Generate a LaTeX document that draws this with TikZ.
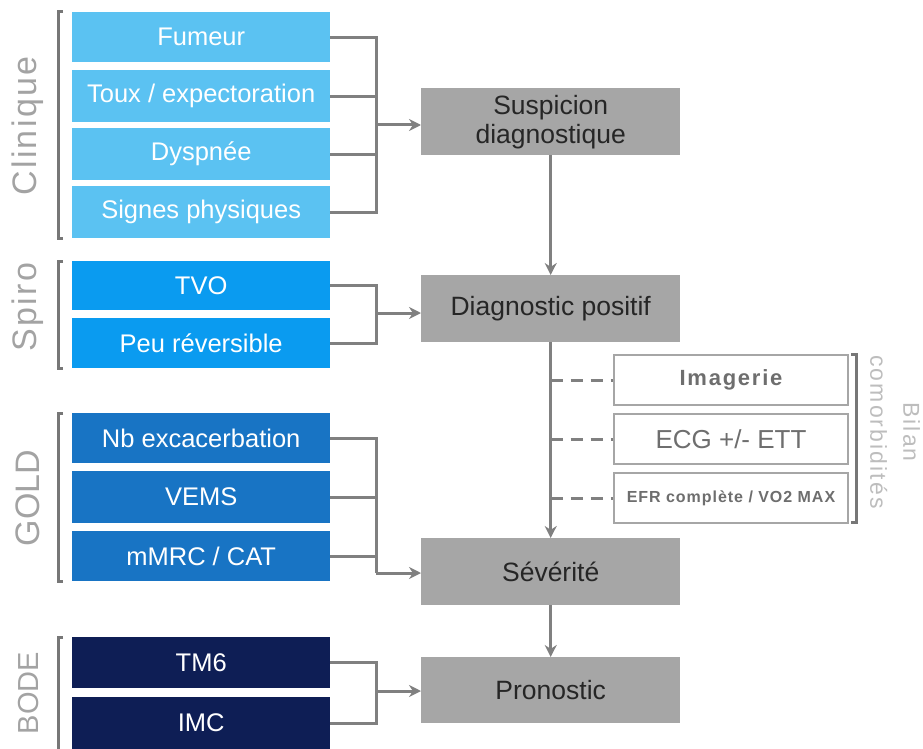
\documentclass[tikz,border=0pt]{standalone}
\usepackage{fontspec}
\setmainfont{Liberation Sans}
\usetikzlibrary{arrows.meta}
\definecolor{clin}{HTML}{5BC2F2}
\definecolor{spiro}{HTML}{0A9BF0}
\definecolor{goldc}{HTML}{1874C4}
\definecolor{bode}{HTML}{0E1E55}
\definecolor{stepgray}{HTML}{A6A6A6}
\definecolor{conn}{HTML}{808080}
\definecolor{lbl}{HTML}{A3A3A3}
\definecolor{bilanc}{HTML}{BDBDBD}
\definecolor{brkc}{HTML}{777777}
\definecolor{comtext}{HTML}{6E6E6E}
\begin{document}
\begin{tikzpicture}[x=1pt,y=-1pt,
  inbox/.style={minimum width=258pt, anchor=north west, inner sep=0pt, text=white, font=\fontsize{25.5}{28}\selectfont},
  stepbox/.style={minimum width=259pt, anchor=north west, inner sep=0pt, fill=stepgray, text=black!85, align=center, font=\fontsize{26.5}{29}\selectfont},
  combox/.style={minimum width=234pt, minimum height=50pt, anchor=north west, inner sep=0pt, draw=stepgray, line width=2pt, fill=white, text=comtext},
  cl/.style={draw=conn, line width=3pt},
  arr/.style={cl, -{Stealth[length=12pt,width=12pt]}},
  dashline/.style={draw=conn, line width=3pt, dash pattern=on 12pt off 8pt},
  brk/.style={draw=brkc, line width=3pt},
  lab/.style={text=lbl, rotate=90, inner sep=0pt}
]
\useasboundingbox (0,0) rectangle (923,749);

% Clinique
\node[inbox, fill=clin, minimum height=50pt] (fum) at (72,12) {Fumeur};
\node[inbox, fill=clin, minimum height=52pt] (toux) at (72,70) {Toux / expectoration};
\node[inbox, fill=clin, minimum height=52pt] (dys) at (72,128) {Dyspnée};
\node[inbox, fill=clin, minimum height=52pt] (sig) at (72,186) {Signes physiques};
% Spiro
\node[inbox, fill=spiro, minimum height=49pt] (tvo) at (72,261) {TVO};
\node[inbox, fill=spiro, minimum height=50pt] (peu) at (72,318) {Peu réversible};
% GOLD
\node[inbox, fill=goldc, minimum height=50pt] (nb) at (72,413) {Nb excacerbation};
\node[inbox, fill=goldc, minimum height=52pt] (vems) at (72,471) {VEMS};
\node[inbox, fill=goldc, minimum height=50pt] (mmrc) at (72,531) {mMRC / CAT};
% BODE
\node[inbox, fill=bode, minimum height=51pt] (tm6) at (72,637) {TM6};
\node[inbox, fill=bode, minimum height=52pt] (imc) at (72,697) {IMC};

% steps
\node[stepbox, minimum height=67pt] (susp) at (421,88) {Suspicion\\diagnostique};
\node[stepbox, minimum height=67pt] (diag) at (421,275) {Diagnostic positif};
\node[stepbox, minimum height=67pt] (sev) at (421,538) {Sévérité};
\node[stepbox, minimum height=66pt] (pron) at (421,657) {Pronostic};

% comorbidities
\node[combox, font=\bfseries\fontsize{22}{24}\selectfont\addfontfeature{LetterSpace=8}] (img) at (613,354) {Imagerie};
\node[combox, font=\fontsize{26}{28}\selectfont] (ecg) at (613,413) {ECG +/- ETT};
\node[combox, font=\bfseries\fontsize{16}{18}\selectfont\addfontfeature{LetterSpace=6}] (efr) at (613,472) {EFR complète / VO2 MAX};

% junctions
\coordinate (jA) at (376,125);
\coordinate (jB) at (376,313);
\coordinate (jC) at (376,573);
\coordinate (jD) at (376,691);

\foreach \n in {fum,toux,dys,sig} \draw[cl] (\n.east) -| (jA);
\draw[arr] (jA) -- (jA -| susp.west);
\foreach \n in {tvo,peu} \draw[cl] (\n.east) -| (jB);
\draw[arr] (jB) -- (jB -| diag.west);
\foreach \n in {nb,vems,mmrc} \draw[cl] (\n.east) -| (jC);
\draw[arr] (jC) -- (jC -| sev.west);
\foreach \n in {tm6,imc} \draw[cl] (\n.east) -| (jD);
\draw[arr] (jD) -- (jD -| pron.west);

\draw[arr] (susp.south) -- (diag.north);
\draw[arr] (diag.south) -- (sev.north);
\draw[arr] (sev.south) -- (pron.north);
\foreach \n in {img,ecg,efr} \draw[dashline] (\n.west -| diag.south) -- (\n.west);

% brackets
\draw[brk] (63,12) -- (58,12) -- (58,238) -- (63,238);
\draw[brk] (63,261) -- (58,261) -- (58,368) -- (63,368);
\draw[brk] (63,413) -- (58,413) -- (58,581) -- (63,581);
\draw[brk] (63,637) -- (58,637) -- (58,749);
\draw[brk] (851,354) -- (856,354) -- (856,522) -- (851,522);

% group labels
\node[lab, font=\fontsize{34}{36}\selectfont\addfontfeature{LetterSpace=7}] (lclin) at (28,126) {Clinique};
\node[lab, font=\fontsize{34}{36}\selectfont\addfontfeature{LetterSpace=7}] (lspiro) at (28,307) {Spiro};
\node[lab, font=\fontsize{34}{36}\selectfont] (lgold) at (28,498) {GOLD};
\node[lab, font=\fontsize{29}{31}\selectfont] (lbode) at (29,693) {BODE};
\node[text=bilanc, rotate=-90, align=center, inner sep=0pt, font=\fontsize{23}{33}\selectfont\addfontfeature{LetterSpace=9}] (lbilan) at (895,432) {Bilan\\comorbidités};
\end{tikzpicture}
\end{document}
